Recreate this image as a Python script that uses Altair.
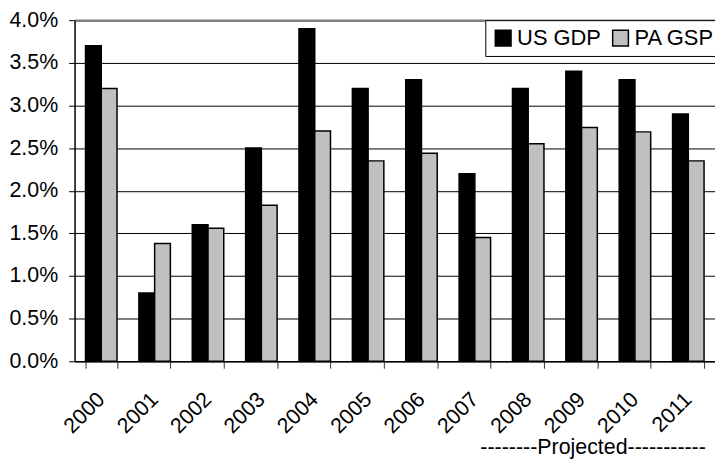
import altair as alt
import pandas as pd

# Annual real growth rates (%), US GDP vs. Pennsylvania GSP
years = ["2000", "2001", "2002", "2003", "2004", "2005",
         "2006", "2007", "2008", "2009", "2010", "2011"]
us_gdp = [3.7, 0.8, 1.6, 2.5, 3.9, 3.2, 3.3, 2.2, 3.2, 3.4, 3.3, 2.9]
pa_gsp = [3.2, 1.38, 1.56, 1.83, 2.7, 2.35, 2.44, 1.45, 2.55, 2.74, 2.69, 2.35]
series = ["US GDP", "PA GSP"]
colors = ["#000000", "#C0C0C0"]
projected_note = "--------Projected-----------"

rows = []
for i, y in enumerate(years):
    rows.append({"year": y, "series": series[0], "value": us_gdp[i]})
    rows.append({"year": y, "series": series[1], "value": pa_gsp[i]})
df = pd.DataFrame(rows)

FONT = "Liberation Sans"
FS = 21.5

bars = alt.Chart(df).mark_bar(stroke="black", strokeWidth=1.5).encode(
    x=alt.X(
        "year:N",
        sort=years,
        scale=alt.Scale(paddingInner=0.41, paddingOuter=0.205),
        axis=alt.Axis(
            title=None,
            labelAngle=-45,
            labelAlign="right",
            labelBaseline="middle",
            labelPadding=28,
            labelFontSize=FS,
            labelFont=FONT,
            labelColor="black",
            tickBand="extent",
            tickSize=7,
            tickColor="#333333",
            domainColor="black",
            domainWidth=1.5,
            grid=False,
        ),
    ),
    xOffset=alt.XOffset("series:N", sort=series, scale=alt.Scale(paddingInner=0, paddingOuter=0)),
    y=alt.Y(
        "value:Q",
        scale=alt.Scale(domain=[0, 4.0], nice=False),
        axis=alt.Axis(
            title=None,
            values=[0, 0.5, 1.0, 1.5, 2.0, 2.5, 3.0, 3.5, 4.0],
            labelExpr="format(datum.value, '.1f') + '%'",
            labelFontSize=FS,
            labelFont=FONT,
            labelColor="black",
            labelPadding=11,
            tickSize=6,
            tickColor="black",
            domainColor="black",
            domainWidth=1.5,
            grid=True,
            gridColor=alt.ConditionalAxisColor(
                condition={"test": "datum.value >= 4", "value": "#808080"},
                value="black",
            ),
            gridWidth=alt.ConditionalAxisNumber(
                condition={"test": "datum.value >= 4", "value": 2.5},
                value=1,
            ),
        ),
    ),
    color=alt.Color(
        "series:N",
        sort=series,
        scale=alt.Scale(domain=series, range=colors),
        legend=alt.Legend(
            title=None,
            orient="none",
            legendX=413,
            legendY=0,
            direction="horizontal",
            symbolType="square",
            symbolSize=250,
            symbolStrokeColor="black",
            symbolStrokeWidth=1.5,
            labelFontSize=22,
            labelFont=FONT,
            labelColor="black",
            columnPadding=8,
            labelOffset=3,
            padding=7,
            strokeColor="black",
            fillColor="white",
        ),
    ),
)

note = alt.Chart(pd.DataFrame({"t": [projected_note]})).mark_text(
    font=FONT, fontSize=FS, align="left", baseline="middle", color="black"
).encode(text="t:N", x=alt.value(408), y=alt.value(430))

chart = alt.layer(bars, note).properties(
    width=644,
    height=343,
    padding={"left": 75, "top": 19, "right": 0, "bottom": 97},
    autosize=alt.AutoSizeParams(type="none"),
).configure_view(stroke=None)

chart.save("out.html", embed_options={"renderer": "svg", "actions": False})
